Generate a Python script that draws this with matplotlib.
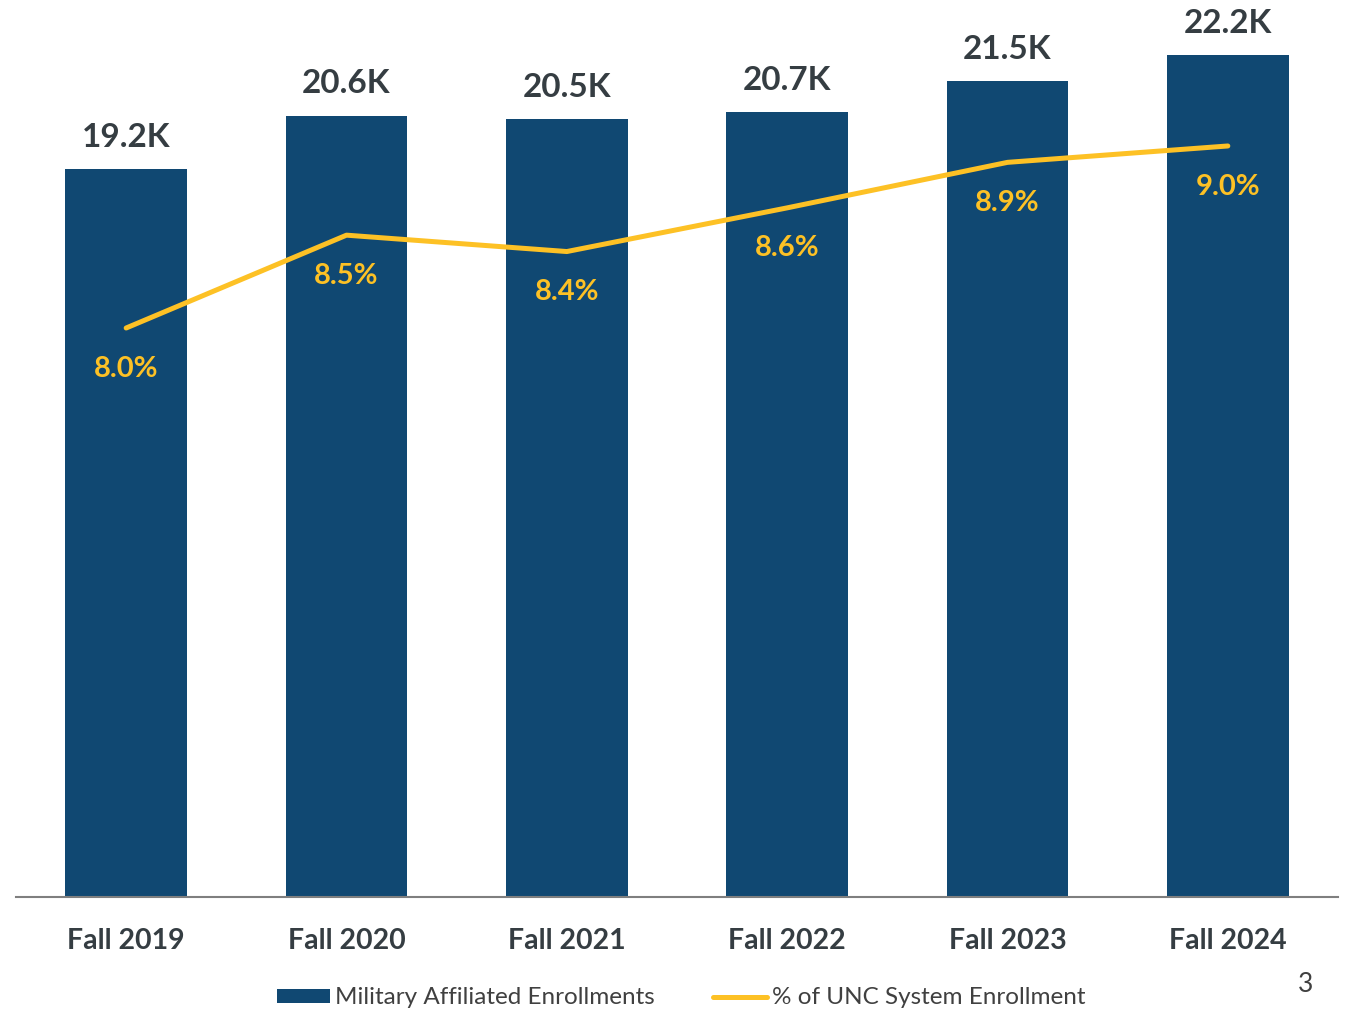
import matplotlib
matplotlib.use("Agg")
import matplotlib.pyplot as plt

# data
terms = ["Fall 2019", "Fall 2020", "Fall 2021", "Fall 2022", "Fall 2023", "Fall 2024"]
enroll_k = [19.2, 20.6, 20.5, 20.7, 21.5, 22.2]
pct_unc = [7.98, 8.49, 8.40, 8.64, 8.89, 8.98]

NAVY = "#104872"
GOLD = "#FDC125"
DARK = "#353D42"

plt.rcParams["font.family"] = ["Lato", "DejaVu Sans"]

fig = plt.figure(figsize=(13.5, 10.1), dpi=100)
ax = fig.add_axes([16 / 1350, 113 / 1010, 1322 / 1350, 887 / 1010])
ax2 = ax.twinx()

x = list(range(len(terms)))
bars = ax.bar(x, enroll_k, width=0.553, color=NAVY, label="Military Affiliated Enrollments", zorder=2)
line, = ax2.plot(x, pct_unc, color=GOLD, lw=3.6, solid_capstyle="round",
                 label="% of UNC System Enrollment", zorder=3)

ax.set_xlim(-0.5, 5.5)
ax.set_ylim(0, 23.385)
ax2.set_ylim(4.854, 9.727)

for a in (ax, ax2):
    for s in ("top", "right", "left"):
        a.spines[s].set_visible(False)
    a.set_yticks([])
ax2.spines["bottom"].set_visible(False)
ax.spines["bottom"].set_color("#7F7F7F")
ax.spines["bottom"].set_linewidth(1.5)

ax.set_xticks(x)
ax.set_xticklabels(terms, fontsize=20.5, fontweight="bold", color=DARK)
ax.tick_params(axis="x", length=0, pad=22)

for xi, v in zip(x, enroll_k):
    ax.annotate(f"{v:.1f}K", (xi, v), xytext=(0, 16), textcoords="offset points",
                ha="center", va="baseline", fontsize=24, fontweight="bold", color=DARK)

for xi, p in zip(x, pct_unc):
    ax2.annotate(f"{p:.1f}%", (xi, p), xytext=(0, -35), textcoords="offset points",
                 ha="center", va="baseline", fontsize=21, fontweight="bold", color=GOLD, zorder=4)

fig.legend(handles=[bars, line], loc="center", bbox_to_anchor=(681 / 1350, 12 / 1010),
           ncol=2, frameon=False, fontsize=17.5, handlelength=2.2, handleheight=0.5,
           handletextpad=0.2, columnspacing=2.4, borderpad=0, labelcolor="#404040")

fig.text(1306 / 1350, 1 - 985 / 1010, "3", ha="center", va="center", fontsize=19, color="#404040")

fig.savefig("out.png", dpi=100)
